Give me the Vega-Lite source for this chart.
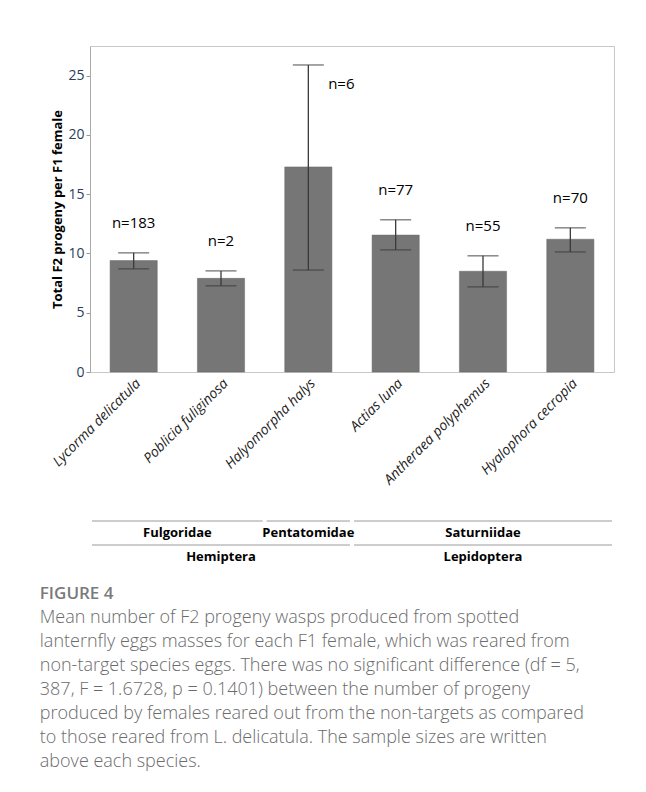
{
  "$schema": "https://vega.github.io/schema/vega-lite/v6.json",
  "padding": {"left": 39, "top": 45, "right": 10, "bottom": 5},
  "background": "white",
  "spacing": 32,
  "title": {
    "text": "FIGURE 4",
    "subtitle": [
      "Mean number of F2 progeny wasps produced from spotted",
      "lanternfly eggs masses for each F1 female, which was reared from",
      "non-target species eggs. There was no significant difference (df = 5,",
      "387, F = 1.6728, p = 0.1401) between the number of progeny",
      "produced by females reared out from the non-targets as compared",
      "to those reared from L. delicatula. The sample sizes are written",
      "above each species."
    ],
    "orient": "bottom",
    "anchor": "start",
    "frame": "bounds",
    "dx": -10,
    "offset": 17,
    "font": "Open Sans",
    "fontSize": 17,
    "fontWeight": 600,
    "color": "#7a7a7a",
    "subtitleFont": "Open Sans",
    "subtitleFontSize": 18,
    "subtitleFontWeight": 300,
    "subtitleColor": "#6b6b6b",
    "subtitleLineHeight": 24,
    "subtitlePadding": 6
  },
  "vconcat": [
    {
      "width": 524,
      "height": 326,
      "view": {"stroke": "#c8c8c8"},
      "data": {
        "values": [
          {"species": "Lycorma delicatula", "mean": 9.4, "lower": 8.7, "upper": 10.05, "n": "n=183"},
          {"species": "Poblicia fuliginosa", "mean": 7.9, "lower": 7.27, "upper": 8.53, "n": "n=2"},
          {"species": "Halyomorpha halys", "mean": 17.3, "lower": 8.6, "upper": 25.9, "n": "n=6"},
          {"species": "Actias luna", "mean": 11.55, "lower": 10.3, "upper": 12.84, "n": "n=77"},
          {"species": "Antheraea polyphemus", "mean": 8.5, "lower": 7.18, "upper": 9.8, "n": "n=55"},
          {"species": "Hyalophora cecropia", "mean": 11.2, "lower": 10.13, "upper": 12.16, "n": "n=70"}
        ]
      },
      "encoding": {
        "x": {
          "field": "species",
          "type": "nominal",
          "sort": null,
          "title": null,
          "scale": {"paddingInner": 0.46, "paddingOuter": 0.23},
          "axis": {
            "labelAngle": -45,
            "labelFont": "Open Sans",
            "labelFontStyle": "italic",
            "labelFontSize": 14,
            "labelColor": "#222222",
            "ticks": false,
            "labelPadding": 4,
            "domainColor": "#c8c8c8"
          }
        }
      },
      "layer": [
        {
          "mark": {"type": "bar", "color": "#767676", "stroke": "#666666", "strokeWidth": 0.5},
          "encoding": {
            "y": {
              "field": "mean",
              "type": "quantitative",
              "title": "Total F2 progeny per F1 female",
              "scale": {"domain": [0, 27.5], "nice": false},
              "axis": {
                "values": [0, 2.5, 5, 7.5, 10, 12.5, 15, 17.5, 20, 22.5, 25],
                "labelExpr": "datum.value % 5 === 0 ? datum.label : ''",
                "grid": false,
                "tickSize": 4,
                "tickColor": "#999999",
                "domainColor": "#aaaaaa",
                "labelFont": "Open Sans",
                "labelFontSize": 14,
                "labelColor": "#2b3d5c",
                "labelPadding": 2,
                "titleFont": "Open Sans",
                "titleFontSize": 13,
                "titleFontWeight": "bold",
                "titleColor": "#000000",
                "titlePadding": 3
              }
            }
          }
        },
        {
          "mark": {"type": "rule", "color": "#3a3a3a", "strokeWidth": 1.3},
          "encoding": {
            "y": {"field": "lower", "type": "quantitative"},
            "y2": {"field": "upper"}
          }
        },
        {
          "mark": {"type": "tick", "color": "#3a3a3a", "thickness": 1.3, "size": 31},
          "encoding": {"y": {"field": "upper", "type": "quantitative"}}
        },
        {
          "mark": {"type": "tick", "color": "#3a3a3a", "thickness": 1.3, "size": 31},
          "encoding": {"y": {"field": "lower", "type": "quantitative"}}
        },
        {
          "transform": [{"filter": "datum.species !== 'Halyomorpha halys'"}],
          "mark": {"type": "text", "font": "Open Sans", "fontSize": 15, "color": "#000000", "dy": -30, "baseline": "middle"},
          "encoding": {
            "y": {"field": "upper", "type": "quantitative"},
            "text": {"field": "n"}
          }
        },
        {
          "transform": [{"filter": "datum.species === 'Halyomorpha halys'"}],
          "mark": {"type": "text", "font": "Open Sans", "fontSize": 15, "color": "#000000", "dx": 33, "dy": 19, "baseline": "middle"},
          "encoding": {
            "y": {"field": "upper", "type": "quantitative"},
            "text": {"field": "n"}
          }
        }
      ]
    },
    {
      "width": 524,
      "height": 48,
      "view": {"stroke": null},
      "data": {
        "values": [
          {"label": "Fulgoridae", "level": "family", "from": 0, "to": 2},
          {"label": "Pentatomidae", "level": "family", "from": 2, "to": 3},
          {"label": "Saturniidae", "level": "family", "from": 3, "to": 6},
          {"label": "Hemiptera", "level": "order", "from": 0, "to": 3},
          {"label": "Lepidoptera", "level": "order", "from": 3, "to": 6}
        ]
      },
      "layer": [
        {
          "mark": {"type": "rule", "color": "#9a9a9a", "strokeWidth": 1, "xOffset": 2, "x2Offset": -2},
          "encoding": {
            "x": {"field": "from", "type": "quantitative", "scale": {"domain": [0, 6], "nice": false}, "axis": null},
            "x2": {"field": "to"},
            "y": {"field": "level", "type": "nominal", "sort": ["family", "order"], "bandPosition": 0, "scale": {"paddingInner": 0, "paddingOuter": 0}, "axis": null}
          }
        },
        {
          "transform": [{"fold": ["from", "to"]}],
          "mark": {"type": "text", "font": "Open Sans", "fontSize": 13, "fontWeight": "bold", "color": "#000000", "baseline": "middle"},
          "encoding": {
            "x": {"aggregate": "mean", "field": "value", "type": "quantitative"},
            "y": {"field": "level", "type": "nominal", "sort": ["family", "order"]},
            "text": {"field": "label"}
          }
        }
      ]
    }
  ]
}
